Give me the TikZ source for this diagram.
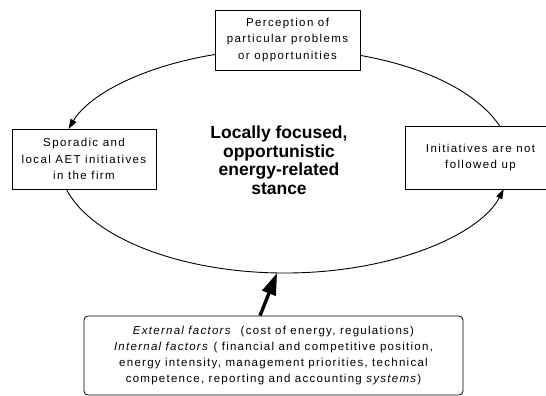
\documentclass[tikz,border=0pt]{standalone}
\usepackage{fontspec}
\setmainfont{Liberation Sans}
\newfontfamily\boxfont[LetterSpace=12]{Liberation Sans}
\newfontfamily\factfont[LetterSpace=11]{Liberation Sans}
\usetikzlibrary{arrows.meta,calc}
\begin{document}
\begin{tikzpicture}[x=1pt,y=1pt,
  box/.style={draw, line width=0.8pt, minimum width=#1, minimum height=60pt,
    inner sep=0pt, align=center, font=\boxfont\fontsize{11.5}{16.5}\selectfont},
  ring/.style={line width=0.9pt},
  thinhead/.style={-{Triangle[length=10pt,width=6.5pt]}},
  thickarrow/.style={line width=3.4pt, -{Triangle[length=22pt,width=14pt]}}]
\useasboundingbox (0,0) rectangle (546,-396);
\clip (0,0) rectangle (546,-396);
\node[box=145pt] (top) at (287.5,-40) {Perception of\\particular problems\\or opportunities};
\node[box=144pt] (left) at (84,-159) {Sporadic and\\local AET initiatives\\in the firm};
\node[box=151pt, minimum height=63pt] (right) at (480.5,-157.5) {Initiatives are not\\followed up};
\node[draw, line width=0.8pt, rounded corners=4pt, minimum width=379pt, minimum height=79pt,
  inner sep=0pt, align=center, font=\factfont\fontsize{11.5}{16}\selectfont] (factors) at (273.5,-355.5)
  {\textit{External factors}\ \ (cost of energy, regulations)\\
   \textit{Internal factors} ( financial and competitive position,\\
   energy intensity, management priorities, technical\\
   competence, reporting and accounting \textit{systems})};
\node[font=\bfseries\fontsize{17.5}{18.5}\selectfont, align=center, inner sep=0pt] (stance) at (279,-160)
  {Locally focused,\\opportunistic\\energy-related\\stance};
% ring (ellipse centre (285,-161), radii 226 and 112)
\coordinate (ec) at (285,-161);
\coordinate (e1) at ($(ec)+(108.04:226 and 112)$);
\coordinate (e2) at ($(ec)+(194.48:226 and 112)$);
\coordinate (e3) at ($(ec)+(18.21:226 and 112)$);
\coordinate (ebot) at ($(ec)+(268:226 and 112)$);
\draw[ring, thinhead] (e1) arc[start angle=108.04, end angle=163.4, x radius=226, y radius=112];
\draw[ring, thinhead] (e2) arc[start angle=194.48, end angle=345.52, x radius=226, y radius=112];
\draw[ring] (e3) arc[start angle=18.21, end angle=70.62, x radius=226, y radius=112];
\draw[thickarrow] ([xshift=-13.5pt]factors.north) -- (ebot);
\end{tikzpicture}
\end{document}
